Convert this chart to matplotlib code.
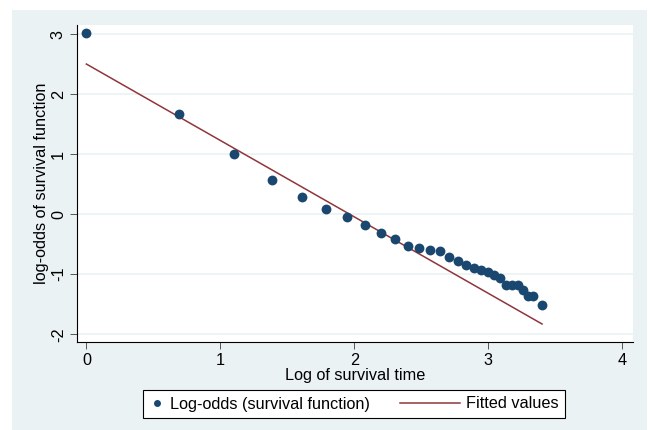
import matplotlib
matplotlib.use("Agg")
import matplotlib.pyplot as plt
from matplotlib.patches import Rectangle
from matplotlib.legend_handler import HandlerLine2D
from matplotlib.lines import Line2D

# log of survival time and log-odds of the survival function
log_time = [0.0, 0.693, 1.099, 1.386, 1.609, 1.792, 1.946, 2.079, 2.197, 2.303,
            2.398, 2.485, 2.565, 2.639, 2.708, 2.773, 2.833, 2.890, 2.944, 2.996,
            3.045, 3.091, 3.135, 3.178, 3.219, 3.258, 3.296, 3.332, 3.401]
log_odds = [3.02, 1.67, 1.00, 0.57, 0.28, 0.08, -0.05, -0.18, -0.32, -0.42,
            -0.53, -0.57, -0.59, -0.62, -0.72, -0.78, -0.85, -0.90, -0.93, -0.97,
            -1.01, -1.06, -1.18, -1.18, -1.18, -1.27, -1.37, -1.37, -1.52]

# fitted values line (endpoints)
fit_x = [0.0, 3.401]
fit_y = [2.50, -1.83]

xticks = [0, 1, 2, 3, 4]
yticks = [-2, -1, 0, 1, 2, 3]

navy = "#1a476f"
maroon = "#90353b"
bg = "#eaf2f3"
fs = 11.7

plt.rcParams["font.family"] = ["Liberation Sans", "DejaVu Sans"]
plt.rcParams["axes.unicode_minus"] = False

fig = plt.figure(figsize=(6.51, 4.30), dpi=100)
fig.patch.set_facecolor("white")
# outer graph region
fig.patches.append(Rectangle((12 / 651, 0), 635 / 651, 420 / 430,
                             transform=fig.transFigure, facecolor=bg,
                             edgecolor="none", zorder=-5))

ax = fig.add_axes([77 / 651, 1 - 342 / 430, (633 - 77) / 651, (342 - 25) / 430])
ax.set_zorder(2)
ax.set_facecolor("white")
ax.set_xlim(-0.07, 4.08)
ax.set_ylim(-2.13, 3.15)

for yv in yticks:
    ax.axhline(yv, color=bg, lw=1.2, zorder=1)

ax.scatter(log_time, log_odds, s=50, color=navy, zorder=3, linewidths=0,
           label="Log-odds (survival function)")
ax.plot(fit_x, fit_y, color=maroon, lw=1.1, zorder=2, label="Fitted values")

ax.spines["top"].set_visible(False)
ax.spines["right"].set_visible(False)
for s in ("left", "bottom"):
    ax.spines[s].set_linewidth(0.8)
    ax.spines[s].set_color("black")

ax.set_xticks(xticks)
ax.set_yticks(yticks)
ax.tick_params(direction="out", length=5, width=0.7, color="#555555",
               labelsize=fs, pad=3)
plt.setp(ax.get_yticklabels(), rotation=90, va="center")

ax.set_xlabel("Log of survival time", fontsize=fs, labelpad=0)
ax.set_ylabel("log-odds of survival function", fontsize=fs, labelpad=1.5)


class LongLine(HandlerLine2D):
    def create_artists(self, legend, orig_handle, xdescent, ydescent,
                       width, height, fontsize, trans):
        extra = 2.8 * fontsize
        return super().create_artists(legend, orig_handle, xdescent + extra,
                                      ydescent, width + extra, height,
                                      fontsize, trans)


h_pts = Line2D([], [], marker="o", ls="none", color=navy, markersize=5,
               markeredgewidth=0)
h_fit = Line2D([], [], color=maroon, lw=1.1)
leg = fig.legend([h_pts, h_fit], ["Log-odds (survival function)", "Fitted values"],
                 loc="center", bbox_to_anchor=(354 / 651, 1 - 404 / 430),
                 ncol=2, fontsize=fs, frameon=True, fancybox=False,
                 edgecolor="black", facecolor="white", framealpha=1,
                 handlelength=0.9, handletextpad=0.4, columnspacing=4.6,
                 borderpad=0.4, numpoints=1,
                 handler_map={h_fit: LongLine()})
leg.get_frame().set_linewidth(0.8)

fig.savefig("out.png", dpi=100)
